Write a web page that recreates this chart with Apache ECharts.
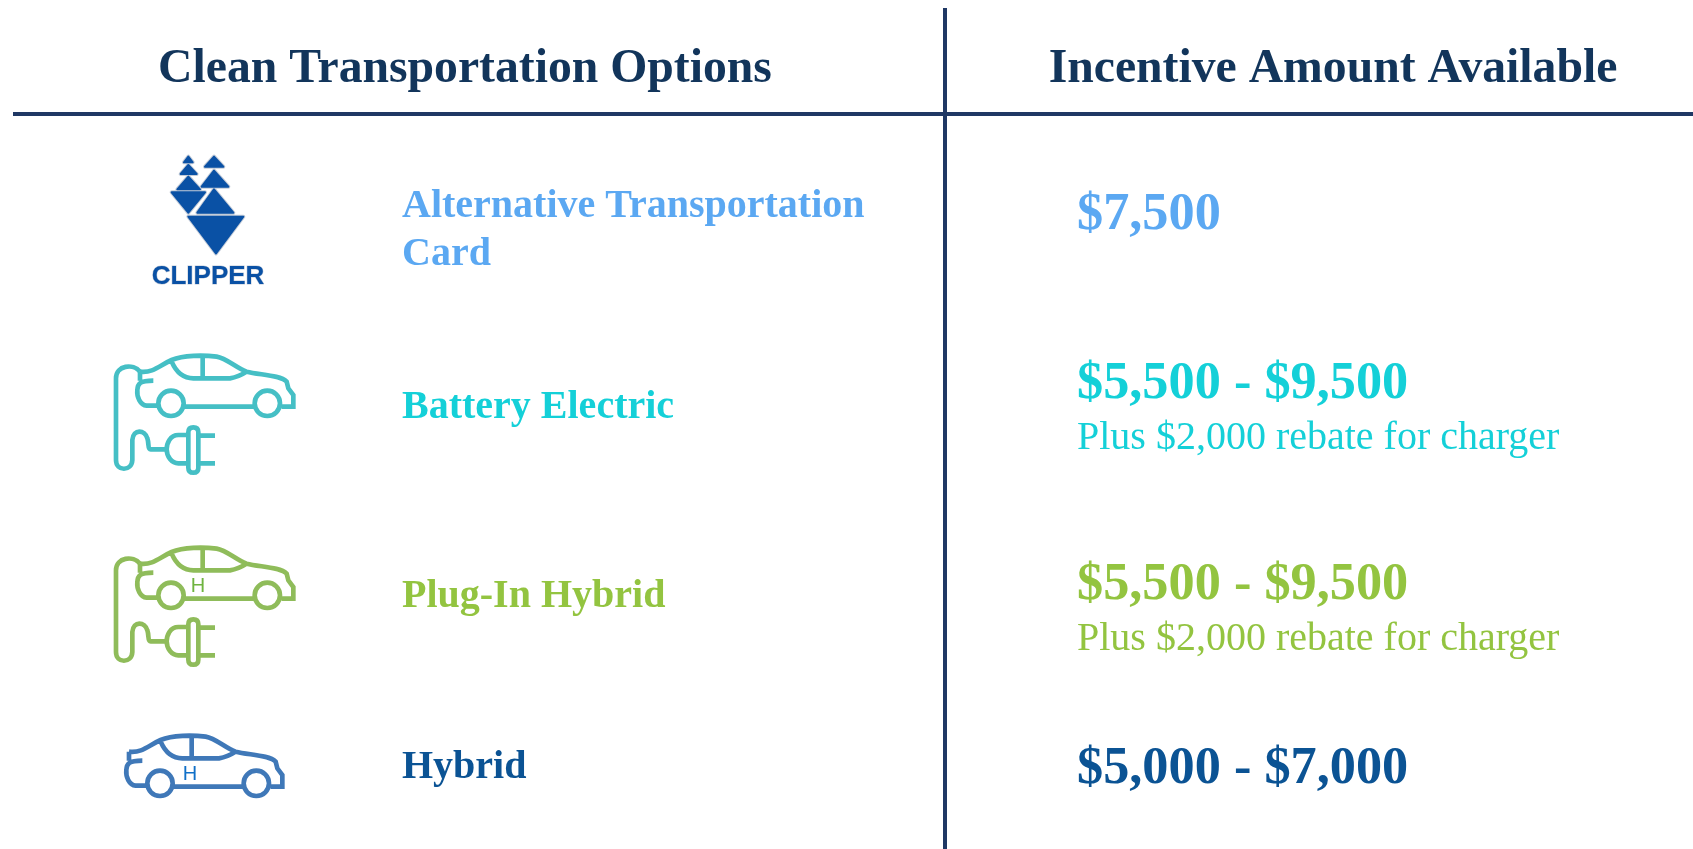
<!DOCTYPE html>
<html>
<head>
<meta charset="utf-8">
<title>Clean Transportation Options</title>
<style>
  html, body { margin: 0; padding: 0; background: #fff; }
  #main { width: 1693px; height: 849px; }
</style>
</head>
<body>
<div id="main"></div>
<script src="https://cdn.jsdelivr.net/npm/echarts@6/dist/echarts.min.js"></script>
<script>
// table content
const headers = ['Clean Transportation Options', 'Incentive Amount Available'];
const options = [['Alternative Transportation', 'Card'], ['Battery Electric'], ['Plug-In Hybrid'], ['Hybrid']];
const amounts = ['$7,500', '$5,500 - $9,500', '$5,500 - $9,500', '$5,000 - $7,000'];
const notes = ['', 'Plus $2,000 rebate for charger', 'Plus $2,000 rebate for charger', ''];
const rowColors = ['#5ba8f2', '#14d0d8', '#93c440', '#0b5394'];

// layout
const optionY = [[207, 255], [408], [597], [768]];
const amountY = [215, 384, 585, 769];
const noteY = [0, 438, 639, 0];
const serif = '"Liberation Serif", "Times New Roman", serif';

// icon outlines, drawn at 3x and scaled down
const carPath = 'M150 95C190 100 210 75 245 60C280 45 340 45 380 50C410 55 440 85 470 95C510 105 570 105 590 125L595 145L610 165L610 200L575 200'
  + 'M495 200L285 200M205 197L170 197C150 195 140 170 142 150C143 130 150 122 190 122M150 95L150 122'
  + 'M245 65C260 100 285 115 310 115L420 115C440 112 455 105 470 95M338 50L338 115'
  + 'M281 190A38 38 0 1 1 205 190A38 38 0 1 1 281 190M570 190A38 38 0 1 1 494 190A38 38 0 1 1 570 190';
const cablePath = 'M225 328L182 328C172 328 178 312 172 295C165 270 130 265 127 300L127 360C125 395 78 395 78 360L78 115C78 75 130 70 150 95'
  + 'M295 285L265 285C240 285 230 310 230 328C230 350 245 370 265 370L295 370'
  + 'M310 262C300 262 295 268 295 277L295 383C295 392 300 398 310 398C320 398 325 392 325 383L325 277C325 268 320 262 310 262'
  + 'M325 287L375 287M325 370L375 370';
const clipperPath = 'M295 80L282 97L308 97ZM295 105L272 132L320 132ZM295 140L262 178L330 178ZM245 187L345 187L295 248Z'
  + 'M372 80L345 110L400 110ZM372 122L335 170L415 170ZM372 178L322 248L430 248ZM295 260L460 260L378 370Z';

function icon(path, x, y, color) {
  return {
    type: 'path',
    x: x,
    y: y,
    scaleX: 1 / 3,
    scaleY: 1 / 3,
    shape: { pathData: path },
    style: { fill: null, stroke: color, lineWidth: 14 }
  };
}

function label(text, x, y, color, size, weight, align) {
  return {
    type: 'text',
    x: x,
    y: y,
    style: {
      text: text,
      fill: color,
      font: (weight || 'normal') + ' ' + size + 'px ' + serif,
      align: align || 'left',
      verticalAlign: 'middle'
    }
  };
}

const elements = [];

// rules
elements.push({ type: 'line', shape: { x1: 13, y1: 114, x2: 1693, y2: 114 }, style: { stroke: '#1f3864', lineWidth: 4 } });
elements.push({ type: 'line', shape: { x1: 945, y1: 8, x2: 945, y2: 849 }, style: { stroke: '#1f3864', lineWidth: 4 } });

// header
elements.push(label(headers[0], 465, 70, '#12355b', 47.7, 'bold', 'center'));
elements.push(label(headers[1], 1333, 70, '#12355b', 47.7, 'bold', 'center'));

// rows
options.forEach((lines, i) => {
  lines.forEach((line, j) => {
    elements.push(label(line, 402, optionY[i][j], rowColors[i], 40, 'bold'));
  });
  elements.push(label(amounts[i], 1077, amountY[i], rowColors[i], 52.3, 'bold'));
  if (notes[i]) {
    elements.push(label(notes[i], 1077, noteY[i], rowColors[i], 40));
  }
});

// clipper wordmark and the H on the hybrid cars
elements.push({
  type: 'text',
  x: 208,
  y: 277,
  style: {
    text: 'CLIPPER',
    fill: '#0a51a5',
    stroke: '#c4ccd8',
    lineWidth: 1,
    font: 'bold 26px "Liberation Sans", Arial, sans-serif',
    align: 'center',
    verticalAlign: 'middle'
  }
});
elements.push({
  type: 'text', x: 198, y: 586,
  style: { text: 'H', fill: '#6fb43f', font: '20px "Liberation Sans", Arial, sans-serif', align: 'center', verticalAlign: 'middle' }
});
elements.push({
  type: 'text', x: 190, y: 774,
  style: { text: 'H', fill: '#1070c8', font: '20px "Liberation Sans", Arial, sans-serif', align: 'center', verticalAlign: 'middle' }
});

// icons go through a custom series, graphic has no raw path type
const iconShapes = [
  {
    type: 'path',
    x: 90,
    y: 130,
    scaleX: 1 / 3,
    scaleY: 1 / 3,
    shape: { pathData: clipperPath },
    style: { fill: '#0a51a5', stroke: '#c4ccd8', lineWidth: 12, lineJoin: 'round' }
  },
  {
    type: 'path',
    x: 90,
    y: 130,
    scaleX: 1 / 3,
    scaleY: 1 / 3,
    shape: { pathData: clipperPath },
    style: { fill: '#0a51a5', stroke: '#0a51a5', lineWidth: 6, lineJoin: 'round' }
  },
  icon(carPath, 90, 340, '#45bfc5'),
  icon(cablePath, 90, 340, '#45bfc5'),
  icon(carPath, 90, 532, '#8fbc5a'),
  icon(cablePath, 90, 532, '#8fbc5a'),
  icon(carPath, 79, 720, '#3f78b8')
];

const chart = echarts.init(document.getElementById('main'));
chart.setOption({
  animation: false,
  backgroundColor: '#fff',
  graphic: { elements: elements },
  series: [{
    type: 'custom',
    coordinateSystem: 'none',
    silent: true,
    data: [0],
    renderItem: () => ({ type: 'group', children: iconShapes })
  }]
});
</script>
</body>
</html>
